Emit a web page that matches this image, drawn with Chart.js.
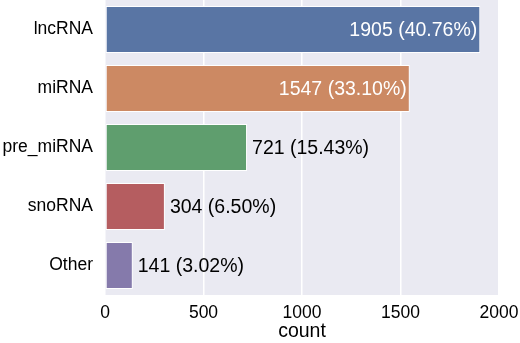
<!DOCTYPE html>
<html>
<head>
<meta charset="utf-8">
<script src="https://cdn.jsdelivr.net/npm/chart.js@4/dist/chart.umd.min.js"></script>
<style>
  html, body { margin: 0; padding: 0; background: #fff; }
  #wrap { width: 520px; height: 343px; }
</style>
</head>
<body>
<div id="wrap"><canvas id="rnaChart" width="520" height="343"></canvas></div>
<script>
const categories = ['lncRNA', 'miRNA', 'pre_miRNA', 'snoRNA', 'Other'];
const counts = [1905, 1547, 721, 304, 141];
const percents = ['40.76', '33.10', '15.43', '6.50', '3.02'];
const barColors = ['#5975A4', '#CC8963', '#5F9E6E', '#B55D60', '#857AAB'];
const xTicks = [0, 500, 1000, 1500, 2000];

const FONT = "'Liberation Sans', Arial, sans-serif";

// fond gris du cadre, façon seaborn darkgrid
const plotBg = {
    id: 'plotBg',
    beforeDraw(chart) {
        const { ctx, chartArea: a } = chart;
        ctx.save();
        ctx.fillStyle = '#EAEAF2';
        ctx.fillRect(a.left, a.top, a.right - a.left, a.bottom - a.top);
        ctx.restore();
    }
};

// étiquettes "n (p%)" sur les barres
const barLabels = {
    id: 'barLabels',
    afterDatasetsDraw(chart) {
        const { ctx } = chart;
        const meta = chart.getDatasetMeta(0);
        ctx.save();
        ctx.font = '19.5px ' + FONT;
        ctx.textBaseline = 'middle';
        meta.data.forEach((bar, i) => {
            const txt = counts[i] + ' (' + percents[i] + '%)';
            if (counts[i] > 1000) {
                ctx.fillStyle = '#ffffff';
                ctx.textAlign = 'right';
                ctx.fillText(txt, bar.x - 3, bar.y + 1);
            } else {
                ctx.fillStyle = '#000000';
                ctx.textAlign = 'left';
                ctx.fillText(txt, bar.x + 5, bar.y + 1);
            }
        });
        ctx.restore();
    }
};

new Chart(document.getElementById('rnaChart').getContext('2d'), {
    type: 'bar',
    data: {
        labels: categories,
        datasets: [{
            data: counts,
            backgroundColor: barColors,
            borderColor: '#ffffff',
            borderWidth: 1,
            borderSkipped: false,
            barPercentage: 0.8,
            categoryPercentage: 1.0
        }]
    },
    options: {
        indexAxis: 'y',
        responsive: false,
        animation: false,
        layout: { padding: { top: 0, right: 21, left: 0, bottom: 0 } },
        plugins: {
            legend: { display: false },
            tooltip: { enabled: false }
        },
        scales: {
            x: {
                min: 0,
                max: 2000,
                afterBuildTicks: s => { s.ticks = xTicks.map(v => ({ value: v })); },
                afterFit: s => { s.height = 48; s.paddingLeft = 0; s.paddingRight = 0; },
                grid: { color: '#ffffff', lineWidth: 1.5, drawTicks: false },
                border: { display: false },
                ticks: {
                    color: '#000000', font: { family: FONT, size: 17.5 }, padding: 8,
                    callback: v => String(v)
                },
                title: {
                    display: true, text: 'count', color: '#000000',
                    font: { family: FONT, size: 19.5 }, padding: { top: 3, bottom: 0 }
                }
            },
            y: {
                afterFit: s => { s.width = 105; s.paddingTop = 0; s.paddingBottom = 0; },
                grid: { display: false, drawTicks: false },
                border: { display: false },
                ticks: { color: '#000000', font: { family: FONT, size: 17.5 }, padding: 12 }
            }
        }
    },
    plugins: [plotBg, barLabels]
});
</script>
</body>
</html>
